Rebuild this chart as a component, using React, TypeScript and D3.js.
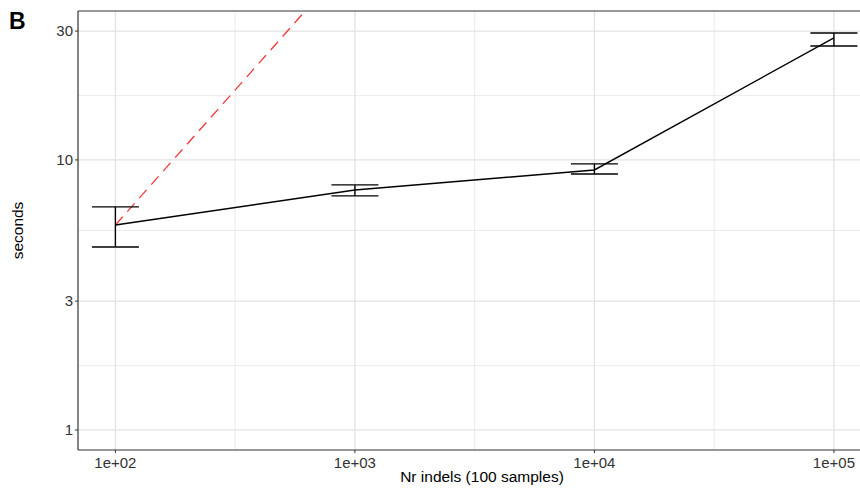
import * as d3 from 'd3'
import { useEffect, useRef } from 'react'

const nIndels = [1e2, 1e3, 1e4, 1e5]
const meanSec = [5.74, 7.74, 9.18, 28.3]
const lowSec = [4.76, 7.36, 8.87, 26.4]
const highSec = [6.7, 8.08, 9.67, 29.5]
const yTicks = [1, 3, 10, 30]
const yMinor = [1.73, 5.48, 17.3]
const xTicks = [1e2, 1e3, 1e4, 1e5]
const xMinor = [316, 3162, 31623]
// linear-scaling reference, starting at the first mean
const refX = [1e2, 1e5]

const W = 860
const H = 491

export default function App() {
	const svgRef = useRef<SVGSVGElement>(null)

	useEffect(() => {
		if (!svgRef.current) return
		const svg = d3.select(svgRef.current)
		svg.selectAll('*').remove()

		const m = { left: 78, right: 0, top: 11, bottom: 41 }
		const x = d3.scaleLog().domain([69.8, 128500]).range([m.left, W - m.right])
		const y = d3.scaleLog().domain([0.843, 35.6]).range([H - m.bottom, m.top])
		const font = 'Liberation Sans, Arial, sans-serif'

		svg.append('defs').append('clipPath').attr('id', 'panel')
			.append('rect')
			.attr('x', m.left).attr('y', m.top)
			.attr('width', W - m.left - m.right).attr('height', H - m.top - m.bottom)

		const grid = svg.append('g')
		grid.selectAll('.vmin').data(xMinor).join('line')
			.attr('x1', d => x(d)).attr('x2', d => x(d))
			.attr('y1', m.top).attr('y2', H - m.bottom)
			.attr('stroke', '#ebebeb').attr('stroke-width', 1)
		grid.selectAll('.hmin').data(yMinor).join('line')
			.attr('y1', d => y(d)).attr('y2', d => y(d))
			.attr('x1', m.left).attr('x2', W - m.right)
			.attr('stroke', '#ebebeb').attr('stroke-width', 1)
		grid.selectAll('.vmaj').data(xTicks).join('line')
			.attr('x1', d => x(d)).attr('x2', d => x(d))
			.attr('y1', m.top).attr('y2', H - m.bottom)
			.attr('stroke', '#e3e3e3').attr('stroke-width', 1.3)
		grid.selectAll('.hmaj').data(yTicks).join('line')
			.attr('y1', d => y(d)).attr('y2', d => y(d))
			.attr('x1', m.left).attr('x2', W - m.right)
			.attr('stroke', '#e3e3e3').attr('stroke-width', 1.3)

		const plot = svg.append('g').attr('clip-path', 'url(#panel)')

		// reference line (slope 1 on log-log)
		plot.append('path')
			.datum(refX)
			.attr('d', d3.line<number>().x(d => x(d)).y(d => y(meanSec[0] * d / refX[0])))
			.attr('fill', 'none').attr('stroke', '#f0383a').attr('stroke-width', 1.3)
			.attr('stroke-dasharray', '11 7')

		const half = 23.5
		const bars = plot.selectAll('.err').data(nIndels).join('g')
		bars.append('line')
			.attr('x1', d => x(d)).attr('x2', d => x(d))
			.attr('y1', (d, i) => y(lowSec[i])).attr('y2', (d, i) => y(highSec[i]))
			.attr('stroke', '#000').attr('stroke-width', 1.4)
		bars.append('line')
			.attr('x1', d => x(d) - half).attr('x2', d => x(d) + half)
			.attr('y1', (d, i) => y(lowSec[i])).attr('y2', (d, i) => y(lowSec[i]))
			.attr('stroke', '#000').attr('stroke-width', 1.4)
		bars.append('line')
			.attr('x1', d => x(d) - half).attr('x2', d => x(d) + half)
			.attr('y1', (d, i) => y(highSec[i])).attr('y2', (d, i) => y(highSec[i]))
			.attr('stroke', '#000').attr('stroke-width', 1.4)

		plot.append('path')
			.datum(nIndels)
			.attr('d', d3.line<number>().x(d => x(d)).y((d, i) => y(meanSec[i])))
			.attr('fill', 'none').attr('stroke', '#000').attr('stroke-width', 1.4)

		// panel border: top, left, bottom
		svg.append('line').attr('x1', m.left).attr('x2', W).attr('y1', m.top).attr('y2', m.top)
			.attr('stroke', '#333').attr('stroke-width', 1.2)
		svg.append('line').attr('x1', m.left).attr('x2', m.left).attr('y1', m.top).attr('y2', H - m.bottom)
			.attr('stroke', '#333').attr('stroke-width', 1.2)
		svg.append('line').attr('x1', m.left).attr('x2', W).attr('y1', H - m.bottom).attr('y2', H - m.bottom)
			.attr('stroke', '#333').attr('stroke-width', 1.2)

		// ticks
		const fmtX = (d: number) => `1e+${String(Math.round(Math.log10(d))).padStart(2, '0')}`
		const xt = svg.append('g').selectAll('g').data(xTicks).join('g')
		xt.append('line')
			.attr('x1', d => x(d)).attr('x2', d => x(d))
			.attr('y1', H - m.bottom).attr('y2', H - m.bottom + 3)
			.attr('stroke', '#333')
		xt.append('text')
			.attr('x', d => x(d)).attr('y', H - m.bottom + 18)
			.attr('text-anchor', 'middle')
			.attr('font-family', font).attr('font-size', 15).attr('fill', '#333')
			.text(fmtX)

		const yt = svg.append('g').selectAll('g').data(yTicks).join('g')
		yt.append('line')
			.attr('x1', m.left - 3).attr('x2', m.left)
			.attr('y1', d => y(d)).attr('y2', d => y(d))
			.attr('stroke', '#333')
		yt.append('text')
			.attr('x', m.left - 5).attr('y', d => y(d)).attr('dy', '0.35em')
			.attr('text-anchor', 'end')
			.attr('font-family', font).attr('font-size', 15).attr('fill', '#333')
			.text(d => String(d))

		svg.append('text')
			.attr('x', 482).attr('y', H - 9)
			.attr('text-anchor', 'middle')
			.attr('font-family', font).attr('font-size', 15.5).attr('fill', '#000')
			.text('Nr indels (100 samples)')
		svg.append('text')
			.attr('transform', `translate(23,${(m.top + H - m.bottom) / 2}) rotate(-90)`)
			.attr('text-anchor', 'middle')
			.attr('font-family', font).attr('font-size', 15.5).attr('fill', '#000')
			.text('seconds')

		svg.append('text')
			.attr('x', 9).attr('y', 29)
			.attr('font-family', font).attr('font-size', 23).attr('font-weight', 'bold')
			.text('B')
	}, [])

	return (
		<svg
			ref={svgRef}
			width={W}
			height={H}
			style={{ position: 'absolute', left: 0, top: 0, background: '#fff' }}
		/>
	)
}
